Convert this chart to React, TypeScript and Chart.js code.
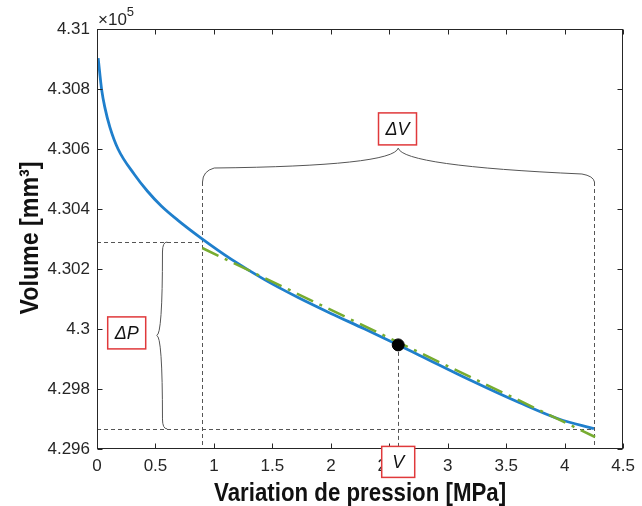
import React, { useEffect, useRef } from "react";
import { Chart, registerables } from "chart.js";
Chart.register(...registerables);

// Measured curve: pressure variation [MPa] vs volume [mm³]
const pressure = [0.01, 0.04, 0.068, 0.11, 0.18, 0.32, 0.43, 0.55, 0.69, 0.89, 1.15, 1.44, 1.72, 2.0, 2.29, 2.576, 2.76, 3.19, 3.61, 3.95, 4.25];
const volume = [430903, 430797, 430737, 430673, 430600, 430515, 430460, 430410, 430363, 430303, 430232, 430163, 430105, 430052, 430000, 429947, 429912, 429830, 429755, 429700, 429668];

// Tangent (linear fit) line
const tangentP = [0.9, 4.26];
const tangentV = [430270, 429640];

// Marked point V
const pointP = [2.576];
const pointV = [429947];

const xTicks = [0, 0.5, 1, 1.5, 2, 2.5, 3, 3.5, 4, 4.5];
const yTicks = [429600, 429800, 430000, 430200, 430400, 430600, 430800, 431000];

// Annotation anchors (data units)
const dPTop = 430290;
const dPBottom = 429667;
const dVLeft = 0.9;
const dVRight = 4.25;
const braceVEnd = 430490;
const braceVTip = 430603;
const braceVLabel = { x: 2.57, y: 430667, text: "ΔV" };
const braceP = { xEnd: 0.6, xBody: 0.56, xTip: 0.51 };
const bracePLabel = { x: 0.254, y: 429987, text: "ΔP" };
const pointLabel = { x: 2.576, y: 429557, text: "V" };

const AXIS = "#262626";
const FONT = "'Liberation Sans', Arial, sans-serif";

function fittedText(ctx: CanvasRenderingContext2D, text: string, cx: number, cy: number, width: number, rot: number) {
  ctx.save();
  ctx.translate(cx, cy);
  ctx.rotate(rot);
  const w = ctx.measureText(text).width;
  ctx.scale(width / w, 1);
  ctx.textAlign = "center";
  ctx.fillText(text, 0, 0);
  ctx.restore();
}

const annotPlugin = {
  id: "annot",
  beforeDatasetsDraw(chart: any) {
    const { ctx, chartArea } = chart;
    const X = (v: number) => chart.scales.x.getPixelForValue(v);
    const Y = (v: number) => chart.scales.y.getPixelForValue(v);
    const s = (p: number) => Math.round(p) + 0.5;
    ctx.save();
    ctx.strokeStyle = "#555";
    ctx.lineWidth = 1;
    ctx.setLineDash([4, 3]);
    const seg = (x1: number, y1: number, x2: number, y2: number) => {
      ctx.beginPath();
      ctx.moveTo(x1, y1);
      ctx.lineTo(x2, y2);
      ctx.stroke();
    };
    const L = chartArea.left, B = chartArea.bottom;
    seg(L, s(Y(dPTop)), s(X(dVLeft)), s(Y(dPTop)));
    seg(L, s(Y(dPBottom)), s(X(dVRight)), s(Y(dPBottom)));
    seg(s(X(dVLeft)), Y(braceVEnd), s(X(dVLeft)), B);
    seg(s(X(dVRight)), Y(braceVEnd), s(X(dVRight)), B);
    seg(s(X(pointP[0])), Y(pointV[0]), s(X(pointP[0])), B);
    ctx.restore();
  },
  afterDraw(chart: any) {
    const { ctx, chartArea } = chart;
    const X = (v: number) => chart.scales.x.getPixelForValue(v);
    const Y = (v: number) => chart.scales.y.getPixelForValue(v);
    const { left, right, top, bottom } = chartArea;
    ctx.save();
    // Box and inward ticks
    ctx.strokeStyle = AXIS;
    ctx.lineWidth = 1;
    ctx.setLineDash([]);
    const l = Math.round(left) + 0.5, r = Math.round(right) - 0.5, t = Math.round(top) + 0.5, b = Math.round(bottom) - 0.5;
    ctx.strokeRect(l, t, r - l, b - t);
    ctx.beginPath();
    xTicks.forEach((v) => {
      const px = Math.round(X(v)) + 0.5;
      ctx.moveTo(px, b); ctx.lineTo(px, b - 5);
      ctx.moveTo(px, t); ctx.lineTo(px, t + 5);
    });
    yTicks.forEach((v) => {
      const py = Math.round(Y(v)) + 0.5;
      ctx.moveTo(l, py); ctx.lineTo(l + 5, py);
      ctx.moveTo(r, py); ctx.lineTo(r - 5, py);
    });
    ctx.stroke();

    // exponent
    ctx.fillStyle = AXIS;
    ctx.textAlign = "left";
    ctx.textBaseline = "alphabetic";
    ctx.font = `17px ${FONT}`;
    ctx.fillText("×10", left + 1, top - 4);
    const w10 = ctx.measureText("×10").width;
    ctx.font = `13px ${FONT}`;
    ctx.fillText("5", left + 1 + w10, top - 13);

    // Axis titles
    ctx.fillStyle = "#111";
    ctx.font = `bold 25px ${FONT}`;
    ctx.textBaseline = "alphabetic";
    fittedText(ctx, "Variation de pression [MPa]", (left + right) / 2, 501, 292, 0);
    fittedText(ctx, "Volume [mm³]", 38, 238, 153, -Math.PI / 2);

    // Braces
    ctx.strokeStyle = "#555";
    ctx.lineWidth = 1;
    const x0 = X(dVLeft), x1 = X(dVRight), xt = X(braceVLabel.x + 0.006);
    const ye = Y(braceVEnd), yt = Y(braceVTip);
    ctx.beginPath();
    ctx.moveTo(Math.round(x0) + 0.5, ye);
    ctx.quadraticCurveTo(x0 + 0.5, ye - 11, x0 + 12, ye - 14);
    ctx.quadraticCurveTo(xt - 5, ye - 16, xt, yt);
    ctx.quadraticCurveTo(xt + 5, ye - 16, x1 - 12, ye - 8);
    ctx.quadraticCurveTo(x1 - 0.5, ye - 6, Math.round(x1) + 0.5, ye);
    ctx.stroke();
    const ytop = Y(dPTop), ybot = Y(dPBottom), ymid = (ytop + ybot) / 2;
    const xe = X(braceP.xEnd), xb = X(braceP.xBody), xtp = X(braceP.xTip);
    ctx.beginPath();
    ctx.moveTo(xe, ytop);
    ctx.quadraticCurveTo(xb, ytop, xb, ytop + 10);
    ctx.quadraticCurveTo(xb, ymid, xtp, ymid);
    ctx.quadraticCurveTo(xb, ymid, xb, ybot - 10);
    ctx.quadraticCurveTo(xb, ybot, xe, ybot);
    ctx.stroke();

    // Label boxes
    const boxLabel = (lab: { x: number; y: number; text: string }, w: number, h: number) => {
      const cx = X(lab.x), cy = Y(lab.y);
      ctx.fillStyle = "#fff";
      ctx.fillRect(cx - w / 2, cy - h / 2, w, h);
      ctx.strokeStyle = "#e0393b";
      ctx.lineWidth = 1.5;
      ctx.strokeRect(cx - w / 2, cy - h / 2, w, h);
      ctx.fillStyle = "#111";
      ctx.font = `italic 18px ${FONT}`;
      ctx.textAlign = "center";
      ctx.textBaseline = "middle";
      ctx.fillText(lab.text, cx, cy + 1);
    };
    boxLabel(braceVLabel, 38, 32);
    boxLabel(bracePLabel, 38, 32);
    boxLabel(pointLabel, 33, 31);
    ctx.restore();
  },
};

export default function App() {
  const ref = useRef<HTMLCanvasElement>(null);
  useEffect(() => {
    document.body.style.margin = "0";
    const canvas = ref.current!;
    const chart = new Chart(canvas, {
      type: "line",
      data: {
        datasets: [
          {
            label: "V",
            data: pointP.map((p, i) => ({ x: p, y: pointV[i] })),
            showLine: false,
            pointRadius: 6,
            pointBackgroundColor: "#000",
            pointBorderColor: "#000",
            order: 0,
          },
          {
            label: "tangente",
            data: tangentP.map((p, i) => ({ x: p, y: tangentV[i] })),
            borderColor: "#77AC30",
            borderWidth: 2.5,
            borderDash: [18, 7, 3, 7],
            pointRadius: 0,
            order: 1,
          },
          {
            label: "mesure",
            data: pressure.map((p, i) => ({ x: p, y: volume[i] })),
            borderColor: "#1f7fcc",
            borderWidth: 2.8,
            pointRadius: 0,
            cubicInterpolationMode: "monotone",
            order: 2,
          },
        ],
      },
      options: {
        responsive: false,
        animation: false,
        devicePixelRatio: 1,
        layout: { padding: { left: 0, top: 29, right: 14, bottom: 0 } },
        plugins: { legend: { display: false }, tooltip: { enabled: false } },
        scales: {
          x: {
            type: "linear",
            min: 0,
            max: 4.5,
            grid: { display: false, drawTicks: false },
            border: { display: false },
            afterBuildTicks: (s: any) => { s.ticks = xTicks.map((v) => ({ value: v })); },
            afterFit: (s: any) => { s.height = 57; },
            ticks: {
              padding: 7,
              color: AXIS,
              font: { family: FONT, size: 17 },
              maxRotation: 0,
              autoSkip: false,
              callback: (v: any) => String(v),
            },
          },
          y: {
            type: "linear",
            min: 429600,
            max: 431000,
            grid: { display: false, drawTicks: false },
            border: { display: false },
            afterBuildTicks: (s: any) => { s.ticks = yTicks.map((v) => ({ value: v })); },
            afterFit: (s: any) => { s.width = 97; },
            ticks: {
              padding: 7,
              color: AXIS,
              font: { family: FONT, size: 17 },
              autoSkip: false,
              callback: (v: any) => String(+(Number(v) / 1e5).toFixed(3)),
            },
          },
        },
      },
      plugins: [annotPlugin],
    } as any);
    return () => chart.destroy();
  }, []);
  return <canvas ref={ref} width={642} height={506} style={{ display: "block", width: 642, height: 506 }} />;
}
